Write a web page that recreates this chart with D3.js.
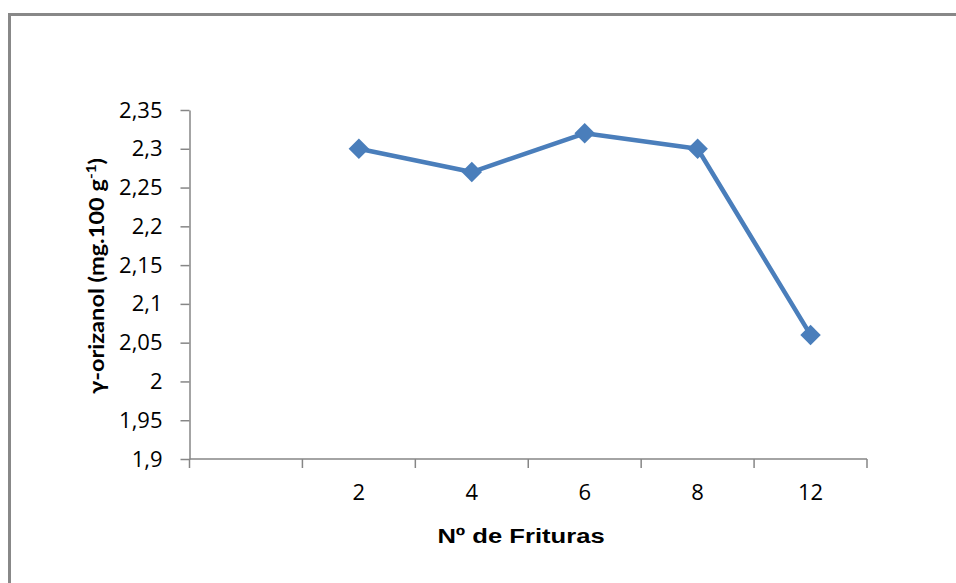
<!DOCTYPE html>
<html>
<head>
<meta charset="utf-8">
<script src="https://cdn.jsdelivr.net/npm/d3@7"></script>
<style>
  body { margin: 0; background: #fff; }
  svg { display: block; }
</style>
</head>
<body>
<svg id="chart" width="956" height="583"></svg>
<script>
// data
var categories = ["", "2", "4", "6", "8", "12"];
var values = [null, 2.30, 2.27, 2.32, 2.30, 2.06];
var yTicks = [1.9, 1.95, 2, 2.05, 2.1, 2.15, 2.2, 2.25, 2.3, 2.35];

var svg = d3.select("#chart"),
	margin = {top: 110, left: 189.5, bottom: 124, right: 89},
	width = +svg.attr("width"),
	height = +svg.attr("height");

var axisColor = "#868686",
	lineColor = "#4a7ebb";

// outer frame (runs off the right and bottom edges)
svg.append("rect")
	.attr("x", 9.5)
	.attr("y", 14.5)
	.attr("width", 1000)
	.attr("height", 1000)
	.attr("fill", "none")
	.attr("stroke", "#888")
	.attr("stroke-width", 3);

var x = d3.scaleBand()
	.domain(categories)
	.range([margin.left, width - margin.right])
	.padding(0);

var y = d3.scaleLinear()
	.domain([1.9, 2.35])
	.range([height - margin.bottom, margin.top]);

var locale = d3.formatLocale({decimal: ",", thousands: ".", grouping: [3], currency: ["", ""]});
var fmt = locale.format(".3~r");

// y axis
var yAxis = svg.append("g")
	.attr("class", "y-axis")
	.attr("transform", `translate(${margin.left},0)`)
	.call(d3.axisLeft(y).tickValues(yTicks).tickFormat(fmt).tickSize(9).tickSizeOuter(0).tickPadding(18));

// x axis: labels centred in bands, tick marks on band edges
var xAxis = svg.append("g")
	.attr("class", "x-axis")
	.attr("transform", `translate(0,${height - margin.bottom})`)
	.call(d3.axisBottom(x).tickSize(0).tickPadding(25));

xAxis.selectAll(".tick").filter(d => d === "").remove();

var edges = categories.map(c => x(c)).concat([x.range()[1]]);
xAxis.selectAll("line.edge")
	.data(edges)
	.enter().append("line")
	.attr("class", "edge")
	.attr("x1", d => d).attr("x2", d => d)
	.attr("y1", 0).attr("y2", 9);

svg.selectAll(".domain, .tick line, line.edge")
	.attr("stroke", axisColor)
	.attr("stroke-width", 1.5);
xAxis.select(".domain").attr("d", `M${x.range()[0]},0H${x.range()[1]}`);

svg.selectAll(".tick text")
	.attr("fill", "#000")
	.style("font-family", "'Open Sans', sans-serif")
	.style("font-size", "22px");

// series
var pts = categories.map((c, i) => ({c: c, v: values[i]})).filter(d => d.v != null);

var line = d3.line()
	.x(d => x(d.c) + x.bandwidth() / 2)
	.y(d => y(d.v));

svg.append("path")
	.datum(pts)
	.attr("fill", "none")
	.attr("stroke", lineColor)
	.attr("stroke-width", 4.5)
	.attr("stroke-linejoin", "round")
	.attr("d", line);

svg.selectAll("path.marker")
	.data(pts)
	.enter().append("path")
	.attr("class", "marker")
	.attr("d", d3.symbol(d3.symbolSquare, 210))
	.attr("transform", d => `translate(${x(d.c) + x.bandwidth() / 2},${y(d.v)}) rotate(45)`)
	.attr("fill", lineColor);

// axis titles (stretched horizontally like the original)
var yt = svg.append("text")
	.attr("transform", "translate(104,276) rotate(-90) scale(1.18,1)")
	.attr("text-anchor", "middle")
	.style("font-family", "Lato, sans-serif")
	.style("font-weight", "bold")
	.style("font-size", "20px")
	.attr("fill", "#000");
yt.append("tspan").text("γ-orizanol (mg.100 g");
yt.append("tspan").attr("dy", -8).style("font-size", "13px").text("-1");
yt.append("tspan").attr("dy", 8).text(")");

svg.append("text")
	.attr("transform", "translate(521,543) scale(1.28,1)")
	.attr("text-anchor", "middle")
	.style("font-family", "'Liberation Sans', Arial, sans-serif")
	.style("font-weight", "bold")
	.style("font-size", "20px")
	.attr("fill", "#000")
	.text("Nº de Frituras");
</script>
</body>
</html>
